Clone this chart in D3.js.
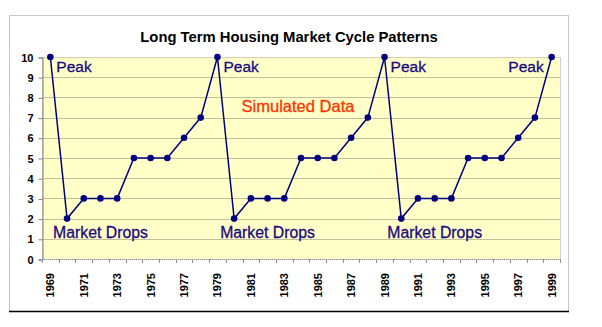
<!DOCTYPE html>
<html>
<head>
<meta charset="utf-8">
<script src="https://cdn.jsdelivr.net/npm/d3@7"></script>
<style>
  body { margin: 0; background: #fff; }
  text { font-family: Arial, "Liberation Sans", sans-serif; }
</style>
</head>
<body>
<svg id="chart" width="602" height="327"></svg>
<script>
// data
var years = d3.range(1969, 2000).map(String);
var values = [10, 2, 3, 3, 3, 5, 5, 5, 6, 7,
              10, 2, 3, 3, 3, 5, 5, 5, 6, 7,
              10, 2, 3, 3, 3, 5, 5, 5, 6, 7, 10];
var yTicks = [0, 1, 2, 3, 4, 5, 6, 7, 8, 9, 10];
var peakYears = ["1969", "1979", "1989", "1999"];
var dropYears = ["1970", "1980", "1990"];

var svg = d3.select("#chart");

// chart frame (gray dotted, black bottom)
svg.append("rect")
    .attr("x", 9.5).attr("y", 15.5)
    .attr("width", 559).attr("height", 296)
    .attr("fill", "#fff")
    .attr("stroke", "#909090")
    .attr("stroke-dasharray", "1,1");
svg.append("line")
    .attr("x1", 9).attr("x2", 569)
    .attr("y1", 311.5).attr("y2", 311.5)
    .attr("stroke", "#000").attr("stroke-width", 1.5);

var pL = 42, pR = 560, pT = 57, pB = 259;

var x = d3.scaleBand().domain(years).range([pL, pR]).padding(0);
var y = d3.scaleLinear().domain([0, 10]).range([pB, pT]);
var cx = d => x(d) + x.bandwidth() / 2;

// plot background
svg.append("rect")
    .attr("x", pL).attr("y", pT)
    .attr("width", pR - pL).attr("height", pB - pT)
    .attr("fill", "#ffffc8");

// gridlines
svg.append("g")
    .selectAll("line")
    .data(yTicks.slice(1, -1))
    .enter()
    .append("line")
    .attr("x1", pL).attr("x2", pR)
    .attr("y1", d => Math.round(y(d)) + 0.5)
    .attr("y2", d => Math.round(y(d)) + 0.5)
    .attr("stroke", "#c4c09c");

// plot border
svg.append("rect")
    .attr("x", pL + 0.5).attr("y", pT + 0.5)
    .attr("width", pR - pL).attr("height", pB - pT)
    .attr("fill", "none")
    .attr("stroke", "#a0a0a0")
    .attr("stroke-dasharray", "1,1");

// y axis
var yAxis = svg.append("g")
    .attr("transform", `translate(${pL + 0.5},0.5)`)
    .call(d3.axisLeft(y).tickValues(yTicks).tickSize(4).tickPadding(5));
yAxis.select(".domain").attr("stroke", "#808080");
yAxis.selectAll(".tick line").attr("stroke", "#808080");
yAxis.selectAll("text")
    .attr("font-size", 11).attr("font-weight", "bold")
    .attr("font-family", "Arial, 'Liberation Sans', sans-serif")
    .attr("fill", "#000");

// x axis: ticks on band edges
svg.append("g")
    .selectAll("line")
    .data(years.concat(["end"]))
    .enter()
    .append("line")
    .attr("x1", (d, i) => Math.round(pL + i * x.bandwidth()) + 0.5)
    .attr("x2", (d, i) => Math.round(pL + i * x.bandwidth()) + 0.5)
    .attr("y1", pB).attr("y2", pB + 4)
    .attr("stroke", "#909090");
svg.append("line")
    .attr("x1", pL).attr("x2", pR)
    .attr("y1", pB + 0.5).attr("y2", pB + 0.5)
    .attr("stroke", "#909090")
    .attr("stroke-dasharray", "1,1");

svg.append("g")
    .selectAll("text")
    .data(years.filter((d, i) => i % 2 === 0))
    .enter()
    .append("text")
    .attr("transform", d => `translate(${cx(d) + 4},${pB + 14}) rotate(-90)`)
    .attr("text-anchor", "end")
    .attr("font-size", 11).attr("font-weight", "bold")
    .text(d => d);

// line + markers
var line = d3.line().x((d, i) => cx(years[i])).y(d => y(d));
svg.append("path")
    .datum(values)
    .attr("d", line)
    .attr("fill", "none")
    .attr("stroke", "#000080")
    .attr("stroke-width", 1.5);

svg.append("g")
    .selectAll("circle")
    .data(values)
    .enter()
    .append("circle")
    .attr("cx", (d, i) => cx(years[i]))
    .attr("cy", d => y(d))
    .attr("r", 3.3)
    .attr("fill", "#000080");

// title
svg.append("text")
    .attr("x", 289).attr("y", 42)
    .attr("text-anchor", "middle")
    .attr("font-size", 14.8).attr("font-weight", "bold")
    .text("Long Term Housing Market Cycle Patterns");

// annotations
svg.append("g")
    .selectAll("text")
    .data(peakYears)
    .enter()
    .append("text")
    .attr("x", (d, i) => i === peakYears.length - 1 ? cx(d) - 8 : cx(d) + 6)
    .attr("y", y(9.25))
    .attr("text-anchor", (d, i) => i === peakYears.length - 1 ? "end" : "start")
    .attr("font-size", 15.5)
    .attr("fill", "#1a0a80")
    .attr("stroke", "#1a0a80").attr("stroke-width", 0.3)
    .text("Peak");

svg.append("g")
    .selectAll("text")
    .data(dropYears)
    .enter()
    .append("text")
    .attr("x", d => cx(d) - 14)
    .attr("y", y(1.05))
    .attr("font-size", 15.8)
    .attr("fill", "#1a0a80")
    .attr("stroke", "#1a0a80").attr("stroke-width", 0.3)
    .text("Market Drops");

svg.append("text")
    .attr("x", 298).attr("y", y(7.3))
    .attr("text-anchor", "middle")
    .attr("font-size", 16.5)
    .attr("fill", "#ff3300")
    .attr("stroke", "#ff3300").attr("stroke-width", 0.3)
    .text("Simulated Data");
</script>
</body>
</html>
